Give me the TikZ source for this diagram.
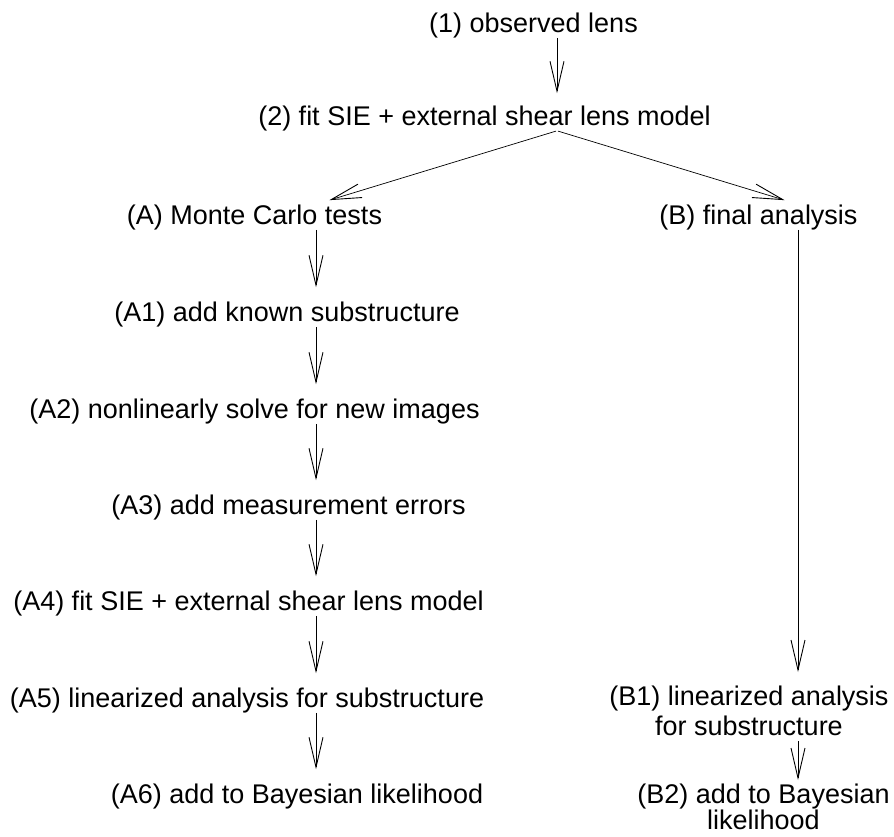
\documentclass[tikz,border=0pt]{standalone}
\usepackage{fontspec}
\setmainfont{Liberation Sans}
\usetikzlibrary{arrows.meta}
\begin{document}
\begin{tikzpicture}[x=1pt,y=-1pt,
  lbl/.style={inner sep=0pt, anchor=base, font=\fontsize{27}{27}\selectfont},
  lbltwo/.style={inner sep=0pt, anchor=north, align=center, font=\fontsize{27}{27}\selectfont},
  arr/.style={line width=0.7pt, -{Straight Barb[length=30pt,width=14pt,line width=0.9pt]}, shorten >=14pt}]
\useasboundingbox (0,0) rectangle (894,836);
\coordinate (c1) at (557,0);
\coordinate (cA) at (316,0);
\coordinate (cB) at (798,0);
\node[lbl] (n1) at (533.5,32) {(1) observed lens};
\node[lbl] (n2) at (484.5,125) {(2) fit SIE + external shear lens model};
\node[lbl] (nA) at (254.5,224) {(A) Monte Carlo tests};
\node[lbl] (nB) at (758.5,224) {(B) final analysis};
\node[lbl] (nA1) at (287,321) {(A1) add known substructure};
\node[lbl] (nA2) at (254.5,418) {(A2) nonlinearly solve for new images};
\node[lbl] (nA3) at (288.5,514) {(A3) add measurement errors};
\node[lbl] (nA4) at (248.5,610) {(A4) fit SIE + external shear lens model};
\node[lbl] (nA5) at (247,707) {(A5) linearized analysis for substructure};
\node[lbl] (nA6) at (297,803) {(A6) add to Bayesian likelihood};
\node[lbltwo] (nB1) at (749,686) {(B1) linearized analysis\\[3pt]for substructure};
\node[lbltwo] (nB2) at (763.5,784) {(B2) add to Bayesian\\[-1pt]likelihood};
\draw[arr, shorten >=12pt] (n1.south -| c1) -- (n2.north -| c1);
\draw[arr, shorten <=1pt] (n2.south -| c1) -- (nA.north -| cA);
\draw[arr, shorten <=1pt] (n2.south -| c1) -- (nB.north -| cB);
\draw[arr] (nA.south -| cA) -- (nA1.north -| cA);
\draw[arr] (nA1.south -| cA) -- (nA2.north -| cA);
\draw[arr] (nA2.south -| cA) -- (nA3.north -| cA);
\draw[arr] (nA3.south -| cA) -- (nA4.north -| cA);
\draw[arr] (nA4.south -| cA) -- (nA5.north -| cA);
\draw[arr] (nA5.south -| cA) -- (nA6.north -| cA);
\draw[arr] (nB.south -| cB) -- (nB1.north -| cB);
\draw[arr, shorten <=5pt, shorten >=4pt] (nB1.south -| cB) -- (nB2.north -| cB);
\end{tikzpicture}
\end{document}
